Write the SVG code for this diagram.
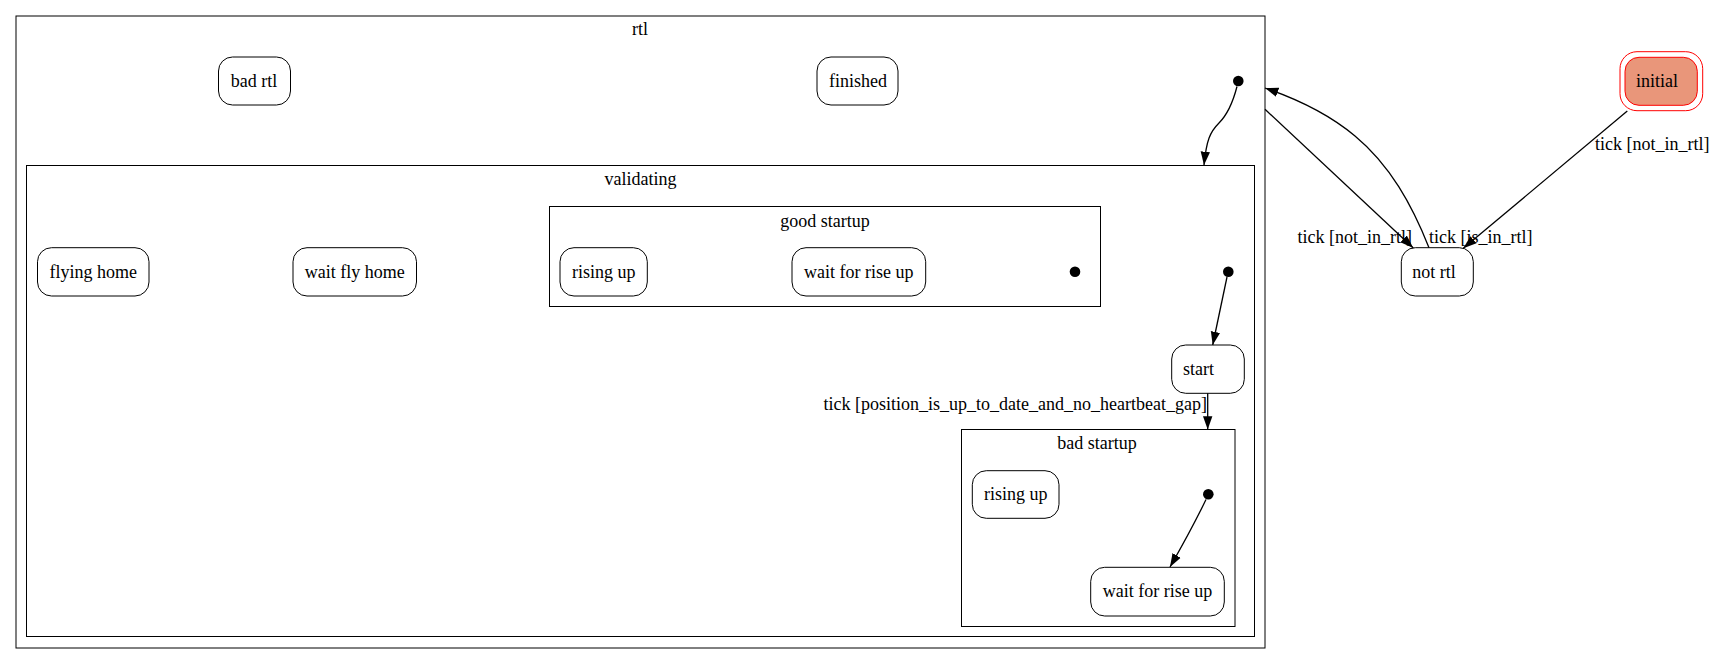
<svg xmlns="http://www.w3.org/2000/svg" width="1716" height="664" viewBox="0 0 1716 664">
<style>
text{font-family:"Liberation Serif","Times New Roman",serif;font-size:18px;fill:#000}
.c{text-anchor:middle}
.cl{fill:none;stroke:#000;stroke-width:1}
.n{fill:#fff;stroke:#000;stroke-width:1}
.e{fill:none;stroke:#000;stroke-width:1.3}
.d{fill:#000}
</style>
<defs>
<marker id="arr" markerUnits="userSpaceOnUse" markerWidth="14" markerHeight="10" viewBox="0 0 14 10" refX="13.3" refY="5" orient="auto">
<path d="M0,0.3 L13.3,5 L0,9.7 z" fill="#000"/>
</marker>
</defs>
<rect width="1716" height="664" fill="#fff"/>

<g id="cluster_rtl">
<rect class="cl" x="16" y="16" width="1249" height="632"/>
<text class="c" x="640" y="35">rtl</text>
</g>
<g id="cluster_validating">
<rect class="cl" x="26.5" y="165.5" width="1228" height="471"/>
<text class="c" x="640.5" y="185">validating</text>
</g>
<g id="cluster_good_startup">
<rect class="cl" x="549.5" y="206.5" width="551" height="100"/>
<text class="c" x="825" y="226.5">good startup</text>
</g>
<g id="cluster_bad_startup">
<rect class="cl" x="961.5" y="429.5" width="273.5" height="197"/>
<text class="c" x="1097" y="449">bad startup</text>
</g>

<g id="node_bad_rtl"><rect class="n" x="218.5" y="57" width="72" height="48" rx="14"/><text class="c" x="254" y="87">bad rtl</text></g>
<g id="node_finished"><rect class="n" x="817" y="57" width="81" height="48" rx="14"/><text class="c" x="858" y="87">finished</text></g>
<g id="node_rtl_init"><circle class="d" cx="1238.3" cy="81" r="5.3"/></g>
<g id="node_flying_home"><rect class="n" x="37.5" y="247.7" width="111.5" height="48.3" rx="14"/><text class="c" x="93.3" y="277.5">flying home</text></g>
<g id="node_wait_fly_home"><rect class="n" x="293" y="247.7" width="123.5" height="48.3" rx="14"/><text class="c" x="354.7" y="277.5">wait fly home</text></g>
<g id="node_good_rising_up"><rect class="n" x="560" y="247.7" width="87.3" height="48.3" rx="14"/><text class="c" x="603.7" y="277.5">rising up</text></g>
<g id="node_good_wait_for_rise_up"><rect class="n" x="792" y="247.7" width="133.7" height="48.3" rx="14"/><text class="c" x="858.8" y="277.5">wait for rise up</text></g>
<g id="node_good_init"><circle class="d" cx="1075" cy="271.7" r="5.3"/></g>
<g id="node_validating_init"><circle class="d" cx="1228.3" cy="271.7" r="5.3"/></g>
<g id="node_start"><rect class="n" x="1171.7" y="345" width="72.6" height="48.3" rx="14"/><text class="c" x="1198.5" y="375">start</text></g>
<g id="node_bad_rising_up"><rect class="n" x="972.3" y="470.7" width="86.7" height="47.6" rx="14"/><text class="c" x="1015.7" y="500.3">rising up</text></g>
<g id="node_bad_init"><circle class="d" cx="1208.3" cy="494.3" r="5.3"/></g>
<g id="node_bad_wait_for_rise_up"><rect class="n" x="1090.7" y="567.3" width="133.6" height="48.7" rx="14"/><text class="c" x="1157.5" y="597.4">wait for rise up</text></g>
<g id="node_not_rtl"><rect class="n" x="1401.3" y="247.7" width="72" height="48.3" rx="14"/><text class="c" x="1434" y="277.5">not rtl</text></g>
<g id="node_initial">
<rect x="1620" y="51.7" width="82.7" height="59" rx="17" fill="none" stroke="#f00" stroke-width="1"/>
<rect x="1625" y="57.3" width="72.3" height="48" rx="14" fill="#e9967a" stroke="#f00" stroke-width="1"/>
<text class="c" x="1657" y="86.5">initial</text>
</g>

<g id="connectors">
<path class="e" d="M1237,86.5 C1233,102 1228,114 1219,123 C1210,132 1206.5,140 1204,165" marker-end="url(#arr)"/>
<path class="e" d="M1227,277 L1212.7,345" marker-end="url(#arr)"/>
<path class="e" d="M1207.7,393.3 L1207.7,429.5" marker-end="url(#arr)"/>
<text x="1207" y="409.5" text-anchor="end">tick [position_is_up_to_date_and_no_heartbeat_gap]</text>
<path class="e" d="M1206,499.5 C1200,512 1186,539 1170,567" marker-end="url(#arr)"/>
<path class="e" d="M1265,109.3 L1413.3,248" marker-end="url(#arr)"/>
<text x="1412" y="243" text-anchor="end">tick [not_in_rtl]</text>
<path class="e" d="M1429,247.7 C1412,205 1390,165 1355,136 C1330,115 1300,100 1265,88" marker-end="url(#arr)"/>
<text x="1429" y="243">tick [is_in_rtl]</text>
<path class="e" d="M1627.3,111 L1463.3,248.3" marker-end="url(#arr)"/>
<text x="1595" y="150">tick [not_in_rtl]</text>
</g>
</svg>
